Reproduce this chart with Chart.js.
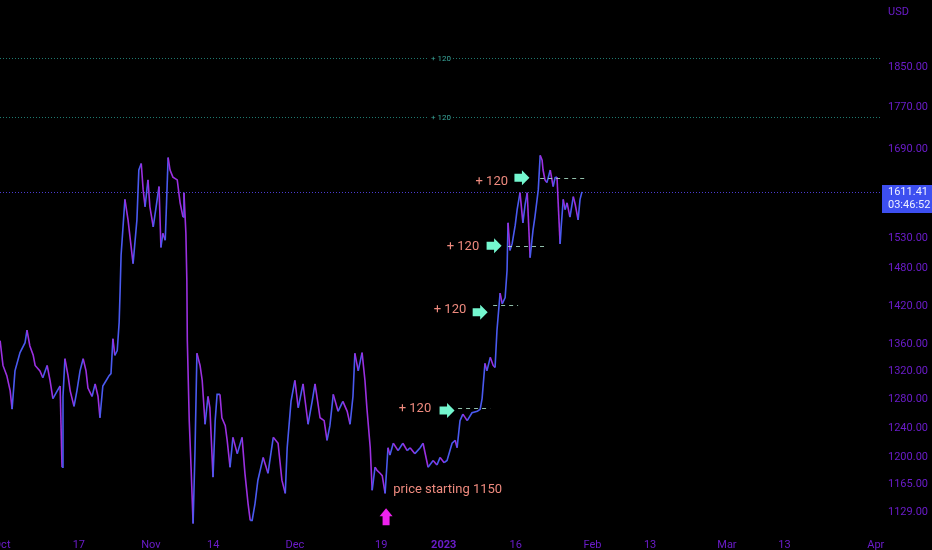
<!DOCTYPE html>
<html><head><meta charset="utf-8">
<script src="https://cdn.jsdelivr.net/npm/chart.js@4.4.0/dist/chart.umd.min.js"></script>
<style>html,body{margin:0;padding:0;background:#000;overflow:hidden}</style>
</head><body>
<canvas id="c" width="932" height="550"></canvas>
<script>
// ---- data (day offset from 1 Oct 2022, price in USD) ----
const days = [-0.4,0.2,1.0,1.7,2.1,2.7,3.75,4.8,5.2,5.8,6.5,6.9,7.9,8.5,9.4,10.0,10.6,11.5,12.1,12.5,12.7,13.1,13.75,14.2,15.0,15.6,16.25,16.9,17.5,17.9,18.75,19.4,20.0,20.4,21.0,21.7,22.3,22.7,23.1,23.5,24.0,24.4,24.6,24.8,25.6,26.25,27.3,28.1,28.5,29.0,29.4,29.8,30.4,30.8,31.5,32.1,32.7,33.1,33.5,34.0,34.6,35.0,35.6,36.5,37.1,37.7,37.9,38.3,38.5,38.6,39.0,39.4,39.8,40.2,40.6,41.25,41.7,42.3,42.9,43.3,43.95,44.4,44.8,45.4,45.8,46.5,46.9,47.5,48.1,49.0,50.0,50.6,51.25,51.7,52.1,52.7,53.3,54.4,55.4,56.5,57.5,58.3,59.0,59.4,60.2,61.0,61.7,62.7,63.75,64.6,65.2,66.25,67.1,67.7,68.3,69.0,70.0,71.0,71.9,72.5,73.1,73.5,74.2,75.0,75.6,76.0,76.7,77.1,77.7,78.1,78.75,79.2,79.8,80.4,80.8,81.5,82.5,83.5,84.4,85.0,86.0,87.1,87.7,88.75,89.8,90.6,91.25,92.1,92.7,93.75,94.4,94.8,95.4,96.0,96.9,97.9,99.0,99.6,100.0,100.6,101.0,101.7,102.3,102.7,103.1,103.75,104.2,104.8,105.2,105.4,105.8,106.25,106.9,107.3,107.9,108.5,108.96,109.4,110.0,110.6,111.0,111.7,112.1,112.5,112.7,113.1,113.5,114.2,114.8,115.2,115.6,116.25,116.5,116.9,117.3,117.7,118.3,119.0,119.4,120.0,120.4,120.8];
const prices = [1366,1329,1314,1292,1266,1321,1348,1363,1382,1358,1344,1329,1321,1311,1329,1307,1281,1292,1299,1187,1284,1339,1314,1292,1270,1292,1321,1339,1321,1296,1284,1302,1284,1254,1299,1307,1314,1317,1369,1344,1351,1394,1444,1502,1598,1562,1488,1562,1651,1663,1615,1585,1633,1585,1550,1585,1621,1515,1539,1527,1674,1651,1638,1633,1592,1567,1610,1539,1461,1366,1250,1183,1115,1209,1347,1329,1307,1245,1284,1268,1174,1250,1287,1287,1254,1243,1223,1187,1227,1205,1227,1179,1140,1119,1119,1140,1170,1200,1179,1227,1219,1170,1153,1213,1277,1307,1268,1302,1245,1277,1302,1254,1250,1223,1243,1287,1263,1277,1263,1245,1284,1347,1321,1348,1307,1268,1213,1157,1187,1183,1179,1176,1153,1213,1203,1219,1209,1219,1209,1213,1205,1213,1219,1187,1196,1190,1200,1193,1196,1219,1223,1213,1250,1259,1250,1261,1263,1266,1281,1332,1321,1341,1329,1326,1382,1440,1423,1433,1477,1557,1510,1521,1553,1580,1610,1557,1589,1610,1498,1544,1567,1615,1678,1669,1651,1633,1628,1651,1621,1637,1638,1521,1553,1598,1580,1592,1567,1603,1589,1562,1598,1611.41];
const xTickDays = [0,16,31,44,61,79,92,107,123,135,151,163,182];
const xTickLabels = ['Oct','17','Nov','14','Dec','19','2023','16','Feb','13','Mar','13','Apr'];
const yTicks = [1129,1165,1200,1240,1280,1320,1360,1420,1480,1530,1690,1770,1850];
const lastPrice = 1611.41;
const countdown = '03:46:52';
const currency = 'USD';
const targetLevels = [1870.6, 1752];
const targetLabel = '+ 120';
const stepLevels = [1268, 1421, 1518, 1637];
const stepFrom = [95.0, 102.3, 105.4, 112.1];
const stepTo = [101.7, 107.5, 113.5, 121.9];
const stepArrowDay = [92.7, 99.6, 102.5, 108.3];
const stepArrowPrice = [1264, 1410, 1518, 1637];
const stepTextDay = [89.4, 96.7, 99.4, 105.4];
const stepTextPrice = [1266, 1413, 1517, 1630];
const stepText = '+ 120';
const startNote = 'price starting 1150';
const startNoteDay = 81.5, startNotePrice = 1158;
const startArrowDay = 80, startArrowPrice = 1123;

const BLUE = '#4a5af0', PURPLE = '#9b30e0', AXIS = '#6a1cc9';
const FONT = 'Roboto, "Liberation Sans", sans-serif';

const overlay = {
  id: 'overlay',
  beforeDraw(chart) {
    const c = chart.ctx; c.save(); c.fillStyle = '#000'; c.fillRect(0, 0, chart.width, chart.height); c.restore();
  },
  beforeDatasetsDraw(chart) {
    const c = chart.ctx, a = chart.chartArea, ys = chart.scales.y;
    c.save();
    // target levels
    targetLevels.forEach(p => {
      const y = Math.round(ys.getPixelForValue(p)) + 0.5;
      const cx = (a.left + a.right) / 2;
      c.strokeStyle = '#1f7a70'; c.lineWidth = 1; c.setLineDash([1, 2]);
      c.beginPath(); c.moveTo(a.left, y); c.lineTo(cx - 12, y); c.moveTo(cx + 12, y); c.lineTo(a.right, y); c.stroke();
      c.setLineDash([]);
      c.fillStyle = '#3aa89c'; c.font = '8px ' + FONT; c.textAlign = 'center'; c.textBaseline = 'middle';
      c.fillText(targetLabel, cx, y);
    });
    // last price line
    const yp = Math.round(ys.getPixelForValue(lastPrice)) + 0.5;
    c.strokeStyle = '#4b3bd0'; c.setLineDash([1, 2]);
    c.beginPath(); c.moveTo(a.left, yp); c.lineTo(a.right, yp); c.stroke();
    c.restore();
  },
  afterDatasetsDraw(chart) {
    const c = chart.ctx, xs = chart.scales.x, ys = chart.scales.y;
    c.save();
    // dashed step levels
    c.strokeStyle = 'rgba(170,225,200,0.85)'; c.lineWidth = 1; c.setLineDash([4, 4]);
    stepLevels.forEach((p, i) => {
      const y = Math.round(ys.getPixelForValue(p)) + 0.5;
      c.beginPath(); c.moveTo(xs.getPixelForValue(stepFrom[i]), y); c.lineTo(xs.getPixelForValue(stepTo[i]), y); c.stroke();
    });
    c.setLineDash([]);
    // arrows
    c.fillStyle = '#74f7cf';
    stepArrowDay.forEach((d, i) => {
      const cx = xs.getPixelForValue(d), cy = ys.getPixelForValue(stepArrowPrice[i]);
      c.beginPath();
      c.moveTo(cx - 7.5, cy - 4); c.lineTo(cx, cy - 4); c.lineTo(cx, cy - 7.5);
      c.lineTo(cx + 7.5, cy); c.lineTo(cx, cy + 7.5); c.lineTo(cx, cy + 4); c.lineTo(cx - 7.5, cy + 4);
      c.closePath(); c.fill();
    });
    // texts
    c.fillStyle = '#ee8a7e'; c.font = '13px ' + FONT; c.textAlign = 'right'; c.textBaseline = 'middle';
    stepTextDay.forEach((d, i) => {
      c.fillText(stepText, xs.getPixelForValue(d), ys.getPixelForValue(stepTextPrice[i]));
    });
    c.textAlign = 'left';
    c.fillText(startNote, xs.getPixelForValue(startNoteDay), ys.getPixelForValue(startNotePrice));
    c.restore();
  },
  afterDraw(chart) {
    const c = chart.ctx, a = chart.chartArea, xs = chart.scales.x, ys = chart.scales.y;
    c.save();
    // magenta up arrow
    const ax = xs.getPixelForValue(startArrowDay), ay = ys.getPixelForValue(startArrowPrice);
    c.fillStyle = '#ee22ee';
    c.beginPath();
    c.moveTo(ax, ay - 9); c.lineTo(ax + 6.5, ay - 1); c.lineTo(ax + 3.5, ay - 1); c.lineTo(ax + 3.5, ay + 8);
    c.lineTo(ax - 3.5, ay + 8); c.lineTo(ax - 3.5, ay - 1); c.lineTo(ax - 6.5, ay - 1); c.closePath(); c.fill();
    // currency label
    c.fillStyle = AXIS; c.font = '11px ' + FONT; c.textAlign = 'left'; c.textBaseline = 'middle';
    c.fillText(currency, a.right + 6, 12);
    // last price box
    const yp = ys.getPixelForValue(lastPrice);
    c.fillStyle = '#3d4ff0';
    c.fillRect(a.right, Math.round(yp) - 7, chart.width - a.right, 28);
    c.fillStyle = '#eef0ff';
    c.fillText(lastPrice.toFixed(2), a.right + 6, yp);
    c.fillText(countdown, a.right + 6, yp + 13);
    c.restore();
  }
};

const pts = days.map((d, i) => ({ x: d, y: prices[i] }));

new Chart(document.getElementById('c'), {
  type: 'line',
  data: { datasets: [{
    data: pts,
    borderWidth: 1.6,
    borderColor: BLUE,
    pointRadius: 0,
    tension: 0,
    segment: { borderColor: ctx => ctx.p1.parsed.y >= ctx.p0.parsed.y ? BLUE : PURPLE }
  }] },
  options: {
    responsive: false, animation: false, devicePixelRatio: 1,
    layout: { padding: 0 },
    plugins: { legend: { display: false }, tooltip: { enabled: false } },
    scales: {
      x: {
        type: 'linear', min: -0.42, max: 183.3,
        grid: { display: false }, border: { display: false },
        afterBuildTicks: s => { s.ticks = xTickDays.map(v => ({ value: v })); },
        afterFit: s => { s.height = 24; s.paddingLeft = 0; s.paddingRight = 0; },
        ticks: {
          autoSkip: false, maxRotation: 0, padding: 5, color: AXIS,
          font: ctx => ({ family: FONT, size: 11, weight: (xTickLabels[ctx.index] === '2023') ? 'bold' : 'normal' }),
          callback: (v, i) => xTickLabels[i]
        }
      },
      y: {
        type: 'logarithmic', position: 'right', min: 1112, max: 1994,
        grid: { display: false, drawTicks: false }, border: { display: false },
        afterBuildTicks: s => { s.ticks = yTicks.map(v => ({ value: v })); },
        afterFit: s => { s.width = 50; s.paddingTop = 0; s.paddingBottom = 0; },
        ticks: {
          autoSkip: false, padding: 6, color: AXIS, font: { family: FONT, size: 11 },
          callback: v => Number(v).toFixed(2)
        }
      }
    }
  },
  plugins: [overlay]
});
</script>
</body></html>
